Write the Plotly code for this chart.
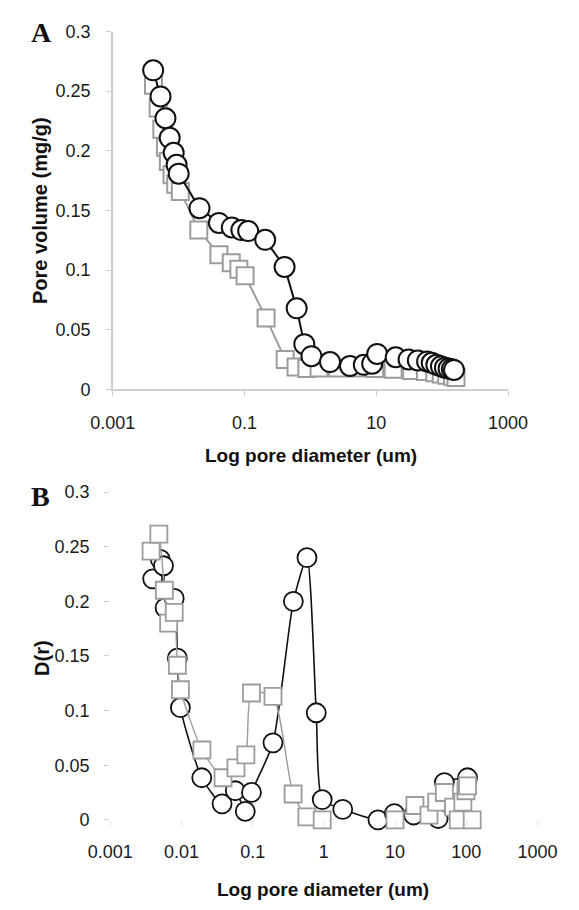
import plotly.graph_objects as go

# ---------------- Panel A: cumulative pore volume ----------------
a_circ_d = [0.0041, 0.0053, 0.0063, 0.0073, 0.0084, 0.0093, 0.0100, 0.0207, 0.0408, 0.0641,
            0.0895, 0.1135, 0.2056, 0.405, 0.618, 0.807, 1.035, 1.98, 3.98, 6.46, 8.65,
            10.3, 19.7, 30.9, 42.7, 59.0, 69.3, 81.5, 95.6, 110, 125, 140, 151]
a_circ_v = [0.2675, 0.2456, 0.2273, 0.2109, 0.1984, 0.1883, 0.1809, 0.1519, 0.1396, 0.1358,
            0.1336, 0.1328, 0.1254, 0.1027, 0.0680, 0.0380, 0.0279, 0.0230, 0.0197, 0.0207, 0.0216,
            0.0298, 0.0270, 0.0252, 0.0243, 0.0235, 0.0224, 0.0207, 0.0194, 0.0183, 0.0175, 0.0170, 0.0164]

a_sq_d = [0.00415, 0.00488, 0.00555, 0.0063, 0.00697, 0.00792, 0.00902, 0.0106, 0.0202, 0.0408,
          0.0628, 0.082, 0.1019, 0.212, 0.414, 0.604, 0.881, 1.35, 2.59, 4.94, 9.44, 18.0,
          34.4, 55.8, 77.2, 96.8, 117, 143, 162]
a_sq_v = [0.255, 0.236, 0.218, 0.203, 0.191, 0.180, 0.172, 0.166, 0.1336, 0.113,
          0.1063, 0.1008, 0.0953, 0.0598, 0.0252, 0.0189, 0.0175, 0.018, 0.018, 0.018, 0.0175, 0.017,
          0.016, 0.015, 0.014, 0.013, 0.012, 0.011, 0.010]

# ---------------- Panel B: pore size distribution D(r) ----------------
b_circ_d = [0.00395, 0.00505, 0.0056, 0.0059, 0.00792, 0.00877, 0.00968, 0.0193, 0.0372, 0.0571,
            0.0787, 0.0962, 0.193, 0.373, 0.579, 0.782, 0.948, 1.84, 5.75, 9.77, 18.2, 40.3,
            49.2, 104]
b_circ_v = [0.2206, 0.2385, 0.2326, 0.194, 0.2027, 0.148, 0.1027, 0.0385, 0.0146, 0.0266,
            0.0078, 0.0251, 0.0705, 0.2000, 0.2400, 0.0980, 0.0185, 0.0096, 0.0, 0.0057, 0.0044, 0.0012,
            0.0341, 0.0385]

b_sq_d = [0.00375, 0.00482, 0.00576, 0.00662, 0.00792, 0.00877, 0.00968, 0.0194, 0.0384, 0.0583,
          0.0804, 0.0962, 0.193, 0.370, 0.577, 0.948, 9.97, 19.0, 29.9, 38.4, 49.2, 66.4,
          77.1, 89.5, 98.9, 104, 121]
b_sq_v = [0.246, 0.2615, 0.2102, 0.180, 0.190, 0.1415, 0.1191, 0.0639, 0.0385, 0.0475,
          0.0594, 0.1161, 0.1131, 0.0236, 0.0027, 0.0, 0.0, 0.0131, 0.0042, 0.0161, 0.025, 0.0116,
          0.0, 0.0161, 0.0266, 0.031, 0.0]

xa_tickvals = [0.001, 0.1, 10, 1000]
xa_ticktext = ["0.001", "0.1", "10", "1000"]
xb_tickvals = [0.001, 0.01, 0.1, 1, 10, 100, 1000]
xb_ticktext = ["0.001", "0.01", "0.1", "1", "10", "100", "1000"]
y_tickvals = [0, 0.05, 0.1, 0.15, 0.2, 0.25, 0.3]
y_ticktext = ["0", "0.05", "0.1", "0.15", "0.2", "0.25", "0.3"]

GRAY = "#9c9c9c"
BLACK = "#111111"
AXC = "#cfcfcf"
FONT = "Liberation Sans"

W, H = 579, 910

def px_x(p):
    return p / W

def px_y(p):
    return (H - p) / H

fig = go.Figure()

# Panel A (squares under circles)
fig.add_trace(go.Scatter(x=a_sq_d, y=a_sq_v, mode="lines+markers", xaxis="x", yaxis="y",
                         line=dict(color=GRAY, width=2),
                         marker=dict(symbol="square", size=17, color="white",
                                     line=dict(color=GRAY, width=2)),
                         cliponaxis=False, showlegend=False))
fig.add_trace(go.Scatter(x=a_circ_d, y=a_circ_v, mode="lines+markers", xaxis="x", yaxis="y",
                         line=dict(color=BLACK, width=2),
                         marker=dict(symbol="circle", size=20, color="white",
                                     line=dict(color=BLACK, width=2)),
                         cliponaxis=False, showlegend=False))

# Panel B (circles under squares)
fig.add_trace(go.Scatter(x=b_circ_d, y=b_circ_v, mode="lines+markers", xaxis="x2", yaxis="y2",
                         line=dict(color=BLACK, width=1.6, shape="spline", smoothing=0.6),
                         marker=dict(symbol="circle", size=19, color="white",
                                     line=dict(color=BLACK, width=1.8)),
                         cliponaxis=False, showlegend=False))
fig.add_trace(go.Scatter(x=b_sq_d, y=b_sq_v, mode="lines+markers", xaxis="x2", yaxis="y2",
                         line=dict(color=GRAY, width=1.4, shape="spline", smoothing=0.6),
                         marker=dict(symbol="square", size=17, color="white",
                                     line=dict(color=GRAY, width=1.8)),
                         cliponaxis=False, showlegend=False))

tickfont = dict(family=FONT, size=18, color="#1a1a1a")

fig.update_layout(
    width=W, height=H,
    margin=dict(l=0, r=0, t=0, b=0),
    paper_bgcolor="white", plot_bgcolor="white",
    xaxis=dict(type="log", range=[-3, 3], domain=[px_x(97), px_x(524)], anchor="y",
               tickvals=xa_tickvals, ticktext=xa_ticktext, showgrid=False, zeroline=False,
               showline=True, linecolor=AXC, linewidth=1.5, ticks="outside", ticklen=5,
               tickcolor=AXC, tickfont=tickfont, ticklabelstandoff=11),
    yaxis=dict(range=[0, 0.3], domain=[px_y(388), px_y(22)], anchor="x",
               tickvals=y_tickvals, ticktext=y_ticktext, showgrid=False, zeroline=False,
               showline=True, linecolor=AXC, linewidth=1.5, ticks="outside", ticklen=5,
               tickcolor=AXC, tickfont=tickfont, ticklabelstandoff=12),
    xaxis2=dict(type="log", range=[-3, 3], domain=[px_x(94.2), px_x(555.8)], anchor="y2",
                tickvals=xb_tickvals, ticktext=xb_ticktext, showgrid=False, zeroline=False,
                showline=False, ticks="outside", ticklen=5, tickcolor="#e6e6e6",
                tickfont=tickfont, ticklabelstandoff=11),
    yaxis2=dict(range=[0, 0.3], domain=[px_y(828), px_y(493)], anchor="x2",
                tickvals=y_tickvals, ticktext=y_ticktext, showgrid=False, zeroline=False,
                showline=False, ticks="outside", ticklen=5, tickcolor=AXC,
                tickfont=tickfont, ticklabelstandoff=11),
)

ann_title = dict(family=FONT, size=19, color="#111111")
fig.add_annotation(text="<b>A</b>", x=px_x(20), y=px_y(23), xref="paper", yref="paper",
                   xanchor="center", yanchor="middle", showarrow=False,
                   font=dict(family="Liberation Serif", size=28, color="#111111"))
fig.add_annotation(text="<b>B</b>", x=px_x(19), y=px_y(497), xref="paper", yref="paper",
                   xanchor="center", yanchor="middle", showarrow=False,
                   font=dict(family="Liberation Serif", size=28, color="#111111"))
fig.add_annotation(text="<b>Log pore diameter (um)</b>", x=px_x(311), y=px_y(455),
                   xref="paper", yref="paper", xanchor="center", yanchor="middle",
                   showarrow=False, font=ann_title)
fig.add_annotation(text="<b>Log pore diameter (um)</b>", x=px_x(324), y=px_y(899),
                   xref="paper", yref="paper", xanchor="center", yanchor="middle",
                   showarrow=False, font=ann_title)
fig.add_annotation(text="<b>Pore volume (mg/g)</b>", x=px_x(19), y=px_y(205),
                   xref="paper", yref="paper", xanchor="center", yanchor="middle",
                   textangle=-90, showarrow=False, font=dict(family=FONT, size=20, color="#111111"))
fig.add_annotation(text="<b>D(r)</b>", x=px_x(21), y=px_y(662),
                   xref="paper", yref="paper", xanchor="center", yanchor="middle",
                   textangle=-90, showarrow=False, font=dict(family=FONT, size=20, color="#111111"))

fig.write_html("out.html")
